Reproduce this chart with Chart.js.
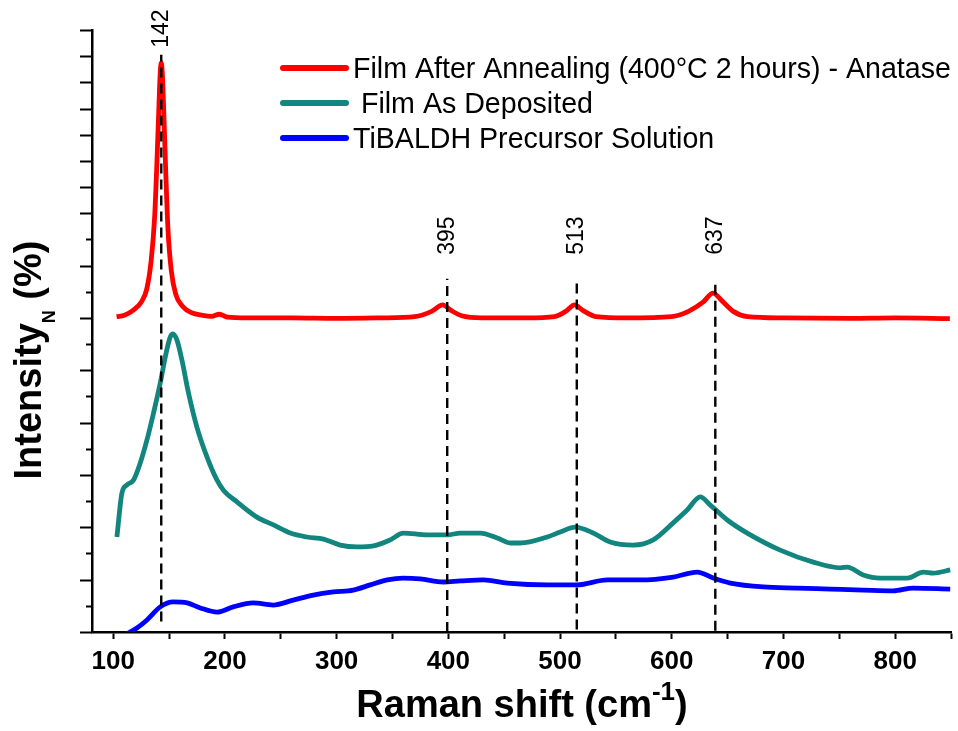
<!DOCTYPE html>
<html>
<head>
<meta charset="utf-8">
<script src="https://cdn.jsdelivr.net/npm/chart.js@4.4.1/dist/chart.umd.min.js"></script>
<style>
  html, body { margin: 0; padding: 0; background: #fff; }
</style>
</head>
<body>
<canvas id="raman" width="958" height="731"></canvas>
<script>
// Raman spectra, intensity in normalised (offset) units
const annealedShift = [103, 110, 118, 125, 130, 134, 137, 139, 141, 142, 143, 144, 145, 147, 149, 152, 156, 162, 170, 180,
  188, 195, 202, 220, 260, 300, 340, 370, 385, 395, 402, 412, 430, 470, 495, 505, 513, 520, 532, 560,
  600, 615, 628, 637, 645, 655, 668, 700, 760, 800, 849];
const annealedIntensity = [12.05, 12.1, 12.3, 12.6, 13.1, 14.2, 15.8, 17.8, 20.2, 21.3, 21.75, 21.3, 20.2, 17.6, 15.4, 13.8, 12.9, 12.45, 12.2, 12.1,
  12.06, 12.14, 12.03, 12.0, 12.0, 11.98, 12.0, 12.05, 12.25, 12.5, 12.3, 12.08, 12.0, 12.0, 12.05, 12.25, 12.5, 12.3, 12.05, 12.0,
  12.05, 12.25, 12.6, 12.95, 12.65, 12.25, 12.05, 12.0, 11.98, 12.0, 11.97];

const depositedShift = [103.3, 107.8, 112.3, 118.2, 124.2, 130.2, 136.1, 142.1, 146.6, 151, 153.4, 157, 161.5, 167.4, 174.9, 183.9, 192.8, 199, 210, 228.6,
  243.5, 258.5, 273.4, 288.3, 303.2, 318.2, 333, 348, 359.6, 381, 399, 410.7, 428.6, 443.8, 455.4, 464.4, 488.5, 500.2, 513.6, 529.7,
  544.9, 565.5, 583.4, 601.3, 613.8, 625.5, 634.5, 649.7, 667.6, 697.1, 726.7, 750.9, 757.1, 771.4, 786.7, 810.9, 825.2, 834.2, 849.3];
const depositedIntensity = [3.63, 5.31, 5.62, 5.81, 6.46, 7.34, 8.37, 9.51, 10.51, 11.27, 11.39, 11.16, 10.39, 9.13, 7.83, 6.69, 5.81, 5.4, 5.0, 4.39,
  4.09, 3.78, 3.63, 3.55, 3.32, 3.25, 3.29, 3.52, 3.78, 3.71, 3.71, 3.78, 3.78, 3.59, 3.4, 3.4, 3.63, 3.82, 4.01, 3.78,
  3.44, 3.32, 3.52, 4.17, 4.66, 5.16, 4.85, 4.28, 3.78, 3.13, 2.67, 2.45, 2.48, 2.18, 2.06, 2.06, 2.29, 2.25, 2.37];

const precursorShift = [109, 121.2, 130.2, 142.1, 153.7, 166.2, 177.9, 193.1, 207.4, 225.3, 243.2, 261.1, 279.1, 297, 314.9, 330.1, 345.3, 359.6, 374.8, 395.4,
  410.7, 431.2, 452.7, 488.5, 515.4, 542.3, 571.8, 601.3, 622.8, 637.2, 652.4, 682, 712.4, 741.9, 771.4, 798.3, 816.2, 849.3];
const precursorIntensity = [-0.15, 0.15, 0.46, 0.96, 1.15, 1.11, 0.92, 0.76, 0.96, 1.11, 1.03, 1.22, 1.41, 1.53, 1.6, 1.8, 1.99, 2.06, 2.03, 1.91,
  1.95, 1.99, 1.87, 1.8, 1.8, 1.99, 1.99, 2.1, 2.29, 2.06, 1.87, 1.72, 1.68, 1.64, 1.6, 1.57, 1.68, 1.64];

const seriesLabels = ['Film After Annealing (400\u00B0C 2 hours) - Anatase', ' Film As Deposited', 'TiBALDH Precursor Solution'];
const seriesColors = ['#ff0000', '#13857f', '#0000ff'];

// anatase peak markers
const peakLineX = [143, 399, 515, 639];
const peakLabels = ['142', '395', '513', '637'];
const peakLineTop = [22.05, 13.5, 13.5, 13.5];
const peakLineBottom = [0.4, 0, 0.1, 0.05];
const peakLabelBase = [22.32, 14.41, 14.41, 14.41];

function toPoints(xs, ys) {
  return xs.map((v, i) => ({ x: v, y: ys[i] }));
}

const FONT = '"Liberation Sans", Arial, Helvetica, sans-serif';

const curves = [
  [annealedShift, annealedIntensity],
  [depositedShift, depositedIntensity],
  [precursorShift, precursorIntensity]
].map((s, i) => ({
  label: seriesLabels[i],
  data: toPoints(s[0], s[1]),
  borderColor: seriesColors[i],
  borderWidth: 4.8,
  pointRadius: 0,
  showLine: true,
  cubicInterpolationMode: 'monotone',
  order: 1
}));

const peakLines = peakLineX.map((v, i) => ({
  label: 'peak ' + peakLabels[i],
  data: [{ x: v, y: peakLineBottom[i] }, { x: v, y: peakLineTop[i] }],
  borderColor: '#000',
  borderWidth: 2.4,
  borderDash: [10, 6],
  pointRadius: 0,
  showLine: true,
  order: 0
}));

// texts with sub/superscripts, legend, rotated peak labels, y ticks
const decorations = {
  id: 'decorations',
  afterDraw(chart) {
    const { ctx, chartArea: area, scales: { x, y } } = chart;
    ctx.save();

    // y ticks: long / short
    ctx.strokeStyle = '#000';
    ctx.lineWidth = 2;
    for (let v = 0; v <= 23; v++) {
      const py = Math.round(y.getPixelForValue(v)) + 0.5;
      const len = (v % 2 === 0 || v >= 16) ? 12 : 6;
      ctx.beginPath();
      ctx.moveTo(area.left - len, py);
      ctx.lineTo(area.left, py);
      ctx.stroke();
    }

    // peak labels
    ctx.fillStyle = '#000';
    ctx.font = '23px ' + FONT;
    ctx.textBaseline = 'middle';
    ctx.textAlign = 'left';
    peakLineX.forEach((v, i) => {
      ctx.save();
      ctx.translate(x.getPixelForValue(v), y.getPixelForValue(peakLabelBase[i]));
      ctx.rotate(-Math.PI / 2);
      ctx.fillText(peakLabels[i], 0, 0);
      ctx.restore();
    });

    // legend
    ctx.font = '28.6px ' + FONT;
    ctx.textBaseline = 'alphabetic';
    ctx.lineCap = 'round';
    seriesLabels.forEach((lab, i) => {
      const rowY = area.top + 38 + i * 35;
      ctx.strokeStyle = seriesColors[i];
      ctx.lineWidth = 6;
      ctx.beginPath();
      ctx.moveTo(area.left + 191, rowY);
      ctx.lineTo(area.left + 254, rowY);
      ctx.stroke();
      ctx.fillText(lab, area.left + 261, rowY + 10);
    });

    // x title: Raman shift (cm-1)
    const big = 'bold 38px ' + FONT, small = 'bold 26px ' + FONT;
    ctx.font = big;
    const p1 = 'Raman shift (cm', p3 = ')';
    const w1 = ctx.measureText(p1).width, w3 = ctx.measureText(p3).width;
    ctx.font = small;
    const w2 = ctx.measureText('-1').width;
    let tx = 522 - (w1 + w2 + w3) / 2;
    const ty = 717;
    ctx.font = big; ctx.fillText(p1, tx, ty); tx += w1;
    ctx.font = small; ctx.fillText('-1', tx, ty - 17); tx += w2;
    ctx.font = big; ctx.fillText(p3, tx, ty);

    // y title: IntensityN (%)
    ctx.save();
    ctx.translate(41, 0);
    ctx.rotate(-Math.PI / 2);
    ctx.font = big;
    const q1 = 'Intensity', q3 = ' (%)';
    const v1 = ctx.measureText(q1).width, v3 = ctx.measureText(q3).width;
    const sub = 'bold 18px ' + FONT;
    ctx.font = sub;
    const v2 = ctx.measureText('N').width;
    let s = -(360 + (v1 + v2 + v3) / 2);
    ctx.font = big; ctx.fillText(q1, s, 0); s += v1;
    ctx.font = sub; ctx.fillText('N', s, 14); s += v2;
    ctx.font = big; ctx.fillText(q3, s, 0);
    ctx.restore();

    ctx.restore();
  }
};

new Chart(document.getElementById('raman'), {
  type: 'scatter',
  data: { datasets: peakLines.concat(curves) },
  options: {
    responsive: false,
    animation: false,
    layout: { padding: { left: 0, top: 30, right: 7, bottom: 0 } },
    plugins: {
      legend: { display: false },
      tooltip: { enabled: false },
      title: { display: false }
    },
    scales: {
      x: {
        type: 'linear',
        min: 81,
        max: 850,
        afterFit: (scale) => { scale.height = 99; },
        afterBuildTicks: (scale) => {
          const t = [];
          for (let v = 100; v <= 850; v += 50) t.push({ value: v });
          scale.ticks = t;
        },
        ticks: {
          autoSkip: false,
          maxRotation: 0,
          padding: 7,
          color: '#000',
          font: { family: FONT, size: 26, weight: 'bold' },
          callback: (v) => (v % 100 === 0 ? String(v) : '')
        },
        grid: { drawOnChartArea: false, drawTicks: true, tickLength: 7, tickWidth: 2, tickColor: '#000' },
        border: { display: true, color: '#000', width: 2.5 }
      },
      y: {
        type: 'linear',
        min: 0,
        max: 23,
        afterFit: (scale) => { scale.width = 92; },
        ticks: { display: false, stepSize: 1 },
        grid: { drawOnChartArea: false, drawTicks: false },
        border: { display: true, color: '#000', width: 2.5 }
      }
    }
  },
  plugins: [decorations]
});
</script>
</body>
</html>
